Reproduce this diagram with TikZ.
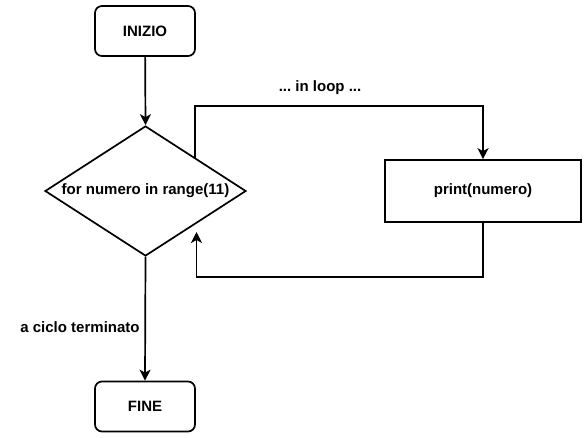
\documentclass[tikz,border=0pt]{standalone}
\usepackage{fontspec}
\setmainfont{Liberation Sans}
\usetikzlibrary{shapes.geometric,arrows.meta}
\frenchspacing
\begin{document}
\begin{tikzpicture}[x=1pt,y=-1pt,
  every node/.style={font=\fontsize{15}{18}\selectfont\bfseries},
  term/.style={draw,line width=1.7pt,rounded corners=7pt,minimum width=100pt,minimum height=50pt,inner sep=0pt},
  proc/.style={draw,line width=1.7pt,minimum width=196pt,minimum height=62pt,inner sep=0pt},
  dec/.style={draw,line width=1.7pt,diamond,aspect=1.546,minimum width=201pt,minimum height=130pt,inner sep=0pt},
  conn/.style={line width=1.7pt,-{Stealth[length=11pt,width=11pt,inset=3pt]}},
  lbl/.style={inner sep=0pt}]
\useasboundingbox (0,0) rectangle (587,437);
\node[term] (start) at (145,31) {INIZIO};
\node[dec] (loop) at (145.5,191) {};
\node[lbl] (looptxt) at (145.5,191) {for numero in range(11)};
\node[proc] (pr) at (483,191) {print(numero)};
\node[term] (end) at (145,406.5) {FINE};
\coordinate (d1) at (195,158);
\coordinate (c1) at (195,106);
\coordinate (c2) at (196.5,277);
\coordinate (d2) at (196.5,232);
\draw[conn] (start) -- (loop.north);
\draw[conn] (d1) -- (c1) -| (pr.north);
\draw[conn] (pr.south) |- (c2) -- (d2);
\draw[conn] (loop.south) -- (end.north);
\node[lbl] (l1) at (320,88) {... in loop ...};
\node[lbl] (l2) at (80,327) {a ciclo terminato};
\end{tikzpicture}
\end{document}
